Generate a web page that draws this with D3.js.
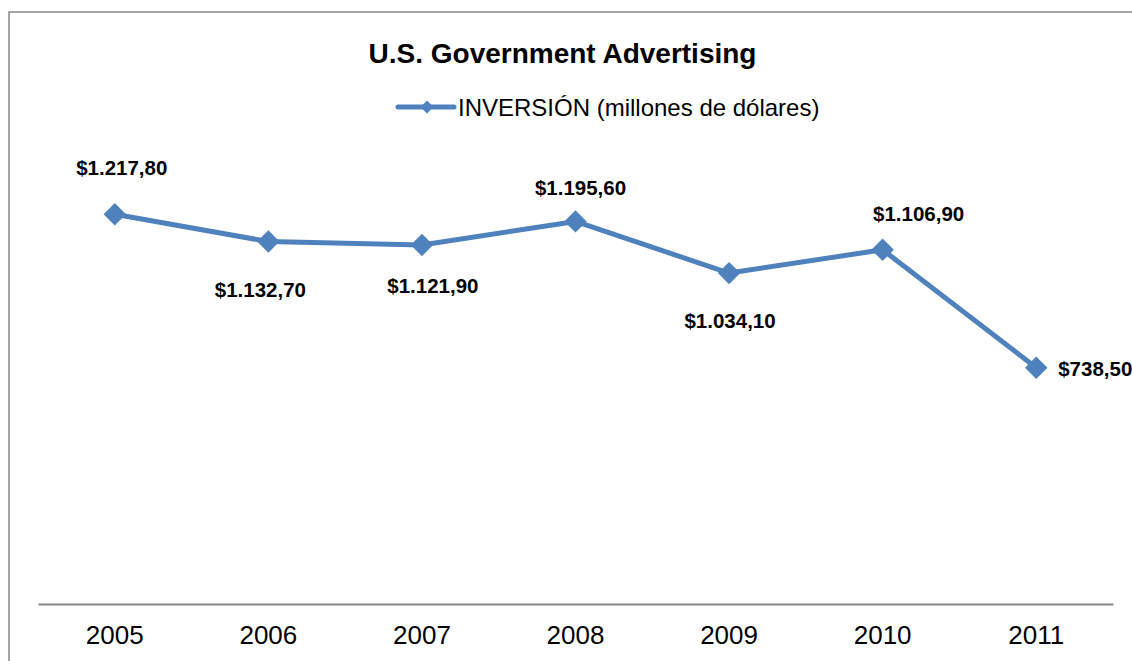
<!DOCTYPE html>
<html>
<head>
<meta charset="utf-8">
<script src="https://cdn.jsdelivr.net/npm/d3@7"></script>
<style>
  html, body { margin: 0; padding: 0; background: #fff; }
  svg { display: block; font-family: "Liberation Sans", Arial, sans-serif; }
</style>
</head>
<body>
<svg id="chart" width="1132" height="661"></svg>
<script>
// Annual U.S. government advertising spend, millions of dollars
const years = ["2005", "2006", "2007", "2008", "2009", "2010", "2011"];
const investment = [1217.8, 1132.7, 1121.9, 1195.6, 1034.1, 1106.9, 738.5];
const seriesName = "INVERSIÓN (millones de dólares)";
const chartTitle = "U.S. Government Advertising";

// Data-label placement relative to each marker: [dx, dy, anchor]
const labelPlacement = [
  [7, -46, "middle"],
  [-8, 48, "middle"],
  [11, 41, "middle"],
  [5, -34, "middle"],
  [1, 48, "middle"],
  [36, -36, "middle"],
  [22, 1, "start"]
];

const color = "#4F81BD";
const svg = d3.select("#chart");

// Chart frame
svg.append("rect")
  .attr("x", 9).attr("y", 12)
  .attr("width", 1300).attr("height", 800)
  .attr("fill", "#fff")
  .attr("stroke", "#868686")
  .attr("stroke-width", 1.5);

const plot = { left: 38, right: 1113, top: 156, bottom: 604 };

const x = d3.scaleBand()
  .domain(years)
  .range([plot.left, plot.right]);

const y = d3.scaleLinear()
  .domain([0, 1400])
  .range([plot.bottom, plot.top]);

// Title
svg.append("text")
  .attr("x", 562.5).attr("y", 63)
  .attr("text-anchor", "middle")
  .attr("font-size", 28)
  .attr("font-weight", "bold")
  .attr("fill", "#000")
  .text(chartTitle);

// Legend
const legend = svg.append("g");
legend.append("line")
  .attr("x1", 398).attr("x2", 454)
  .attr("y1", 107).attr("y2", 107)
  .attr("stroke", color).attr("stroke-width", 5)
  .attr("stroke-linecap", "round");
legend.append("path")
  .attr("d", d3.symbol(d3.symbolDiamond2, 110)())
  .attr("transform", "translate(427,107)")
  .attr("fill", color);
legend.append("text")
  .attr("x", 458).attr("y", 116)
  .attr("font-size", 24)
  .attr("fill", "#000")
  .text(seriesName);

// Category axis
const xAxis = d3.axisBottom(x).tickSize(0).tickPadding(22);
const axisG = svg.append("g")
  .attr("transform", `translate(0,${plot.bottom})`)
  .call(xAxis);
axisG.select(".domain")
  .attr("stroke", "#868686")
  .attr("stroke-width", 2);
axisG.selectAll(".tick text")
  .attr("font-size", 26)
  .attr("font-family", "'Liberation Sans', Arial, sans-serif")
  .attr("fill", "#000")
  .attr("dy", "0.71em");

const points = years.map((yr, i) => ({
  year: yr,
  value: investment[i],
  cx: x(yr) + x.bandwidth() / 2,
  cy: y(investment[i])
}));

// Series line
const line = d3.line().x(d => d.cx).y(d => d.cy);
svg.append("path")
  .datum(points)
  .attr("d", line)
  .attr("fill", "none")
  .attr("stroke", color)
  .attr("stroke-width", 5)
  .attr("stroke-linejoin", "round");

// Markers
svg.selectAll(".marker")
  .data(points)
  .enter().append("path")
  .attr("class", "marker")
  .attr("d", d3.symbol(d3.symbolDiamond2, 320)())
  .attr("transform", d => `translate(${d.cx},${d.cy})`)
  .attr("fill", color);

// Data labels, formatted with "." thousands and "," decimals
const fmt = d3.formatLocale({
  decimal: ",", thousands: ".", grouping: [3], currency: ["$", ""]
}).format("$,.2f");

svg.selectAll(".dlabel")
  .data(points)
  .enter().append("text")
  .attr("class", "dlabel")
  .attr("x", (d, i) => d.cx + labelPlacement[i][0])
  .attr("y", (d, i) => d.cy + labelPlacement[i][1])
  .attr("dy", "0.35em")
  .attr("text-anchor", (d, i) => labelPlacement[i][2])
  .attr("font-size", 20.5)
  .attr("font-weight", "bold")
  .attr("fill", "#000")
  .text(d => fmt(d.value));
</script>
</body>
</html>
